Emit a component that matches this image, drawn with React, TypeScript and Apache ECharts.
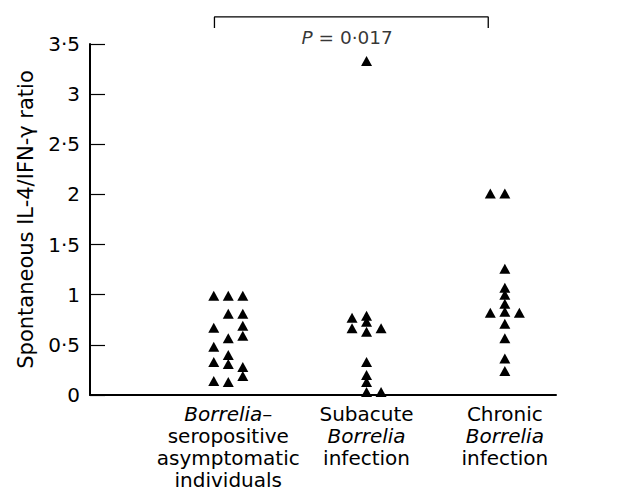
import React, { useEffect, useRef } from "react";
import * as echarts from "echarts";

// Category labels (rich text: {i|...} is italic)
const categoryLabels = [
  "{i|Borrelia}–\nseropositive\nasymptomatic\nindividuals",
  "Subacute\n{i|Borrelia}\ninfection",
  "Chronic\n{i|Borrelia}\ninfection",
];

// Y axis ticks
const yTicks = [0, 0.5, 1, 1.5, 2, 2.5, 3, 3.5];

// Values per group, with column (-1 left, 0 centre, 1 right) of each point
const group1Values = [0.99, 0.99, 0.99, 0.81, 0.81, 0.67, 0.69, 0.59, 0.565, 0.48, 0.4, 0.33, 0.31, 0.28, 0.19, 0.14, 0.13];
const group1Cols = [-1, 0, 1, 0, 1, -1, 1, 1, 0, -1, 0, -1, 0, 1, 1, -1, 0];

const group2Values = [3.33, 0.77, 0.79, 0.73, 0.665, 0.63, 0.665, 0.33, 0.2, 0.13, 0.03, 0.03];
const group2Cols = [0, -1, 0, 0, -1, 0, 1, 0, 0, 0, 0, 1];

const group3Values = [2.01, 2.01, 1.26, 1.07, 1.0, 0.91, 0.82, 0.83, 0.82, 0.71, 0.565, 0.365, 0.24];
const group3Cols = [-1, 0, 0, 0, 0, 0, -1, 0, 1, 0, 0, 0, 0];

// Significance bracket between groups
const bracketX = [0.9, 2.88];
const bracketY = [3.66, 3.77];
const pLabel = "{i|P} = 0·017";
const pPos = [1.86, 3.56];

const FONT = "DejaVu Sans";
const COL_STEP = 0.105;

export default function App() {
  const ref = useRef<HTMLDivElement>(null);
  useEffect(() => {
    if (!ref.current) return;
    const chart = echarts.init(ref.current, undefined, { renderer: "svg" });
    const groups = [
      [group1Values, group1Cols],
      [group2Values, group2Cols],
      [group3Values, group3Cols],
    ];
    const points: number[][] = [];
    groups.forEach(([vals, cols], gi) => {
      (vals as number[]).forEach((v, i) => {
        points.push([gi + 1 + (cols as number[])[i] * COL_STEP, v]);
      });
    });
    const italic = { fontStyle: "italic", fontFamily: FONT, fontSize: 20, color: "#000", lineHeight: 22 };
    chart.setOption({
      animation: false,
      backgroundColor: "#fff",
      grid: { left: 90, right: 78, top: 44, bottom: 105 },
      xAxis: {
        type: "value",
        min: 0,
        max: 3.37,
        interval: 1,
        splitLine: { show: false },
        axisTick: { show: false },
        axisLine: { lineStyle: { color: "#000", width: 2 } },
        axisLabel: {
          margin: 8,
          fontFamily: FONT,
          fontSize: 20,
          color: "#000",
          lineHeight: 22,
          showMaxLabel: false,
          formatter: (v: number) => {
            const idx = Math.round(v) - 1;
            if (Math.abs(v - Math.round(v)) > 1e-6 || idx < 0 || idx > 2) return "";
            return categoryLabels[idx];
          },
          rich: { i: italic },
        },
      },
      yAxis: {
        type: "value",
        min: yTicks[0],
        max: yTicks[yTicks.length - 1],
        interval: 0.5,
        name: "Spontaneous IL-4/IFN-γ ratio",
        nameLocation: "middle",
        nameGap: 54,
        nameTextStyle: { fontFamily: FONT, fontSize: 21, color: "#000" },
        splitLine: { show: false },
        axisLine: { lineStyle: { color: "#000", width: 2 } },
        axisTick: { inside: true, length: 15, lineStyle: { color: "#000", width: 1.2 } },
        axisLabel: {
          margin: 10,
          fontFamily: FONT,
          fontSize: 20,
          color: "#000",
          formatter: (v: number) => String(v).replace(".", "·"),
        },
      },
      series: [
        {
          type: "scatter",
          data: points,
          symbol: "triangle",
          symbolSize: [11, 10],
          itemStyle: { color: "#000", opacity: 1 },
          clip: false,
        },
        {
          type: "line",
          data: [
            [bracketX[0], bracketY[0]],
            [bracketX[0], bracketY[1]],
            [bracketX[1], bracketY[1]],
            [bracketX[1], bracketY[0]],
          ],
          symbol: "none",
          clip: false,
          lineStyle: { color: "#000", width: 1.3 },
          silent: true,
        },
        {
          type: "scatter",
          data: [pPos],
          symbolSize: 0,
          clip: false,
          silent: true,
          label: {
            show: true,
            position: "inside",
            formatter: pLabel,
            fontFamily: FONT,
            fontSize: 18.5,
            color: "#000",
            rich: { i: { fontStyle: "italic", fontFamily: FONT, fontSize: 18.5, color: "#000" } },
          },
        },
      ],
    });
    return () => chart.dispose();
  }, []);
  return (
    <div
      ref={ref}
      style={{ position: "fixed", left: 0, top: 0, width: 634, height: 500 }}
    />
  );
}
